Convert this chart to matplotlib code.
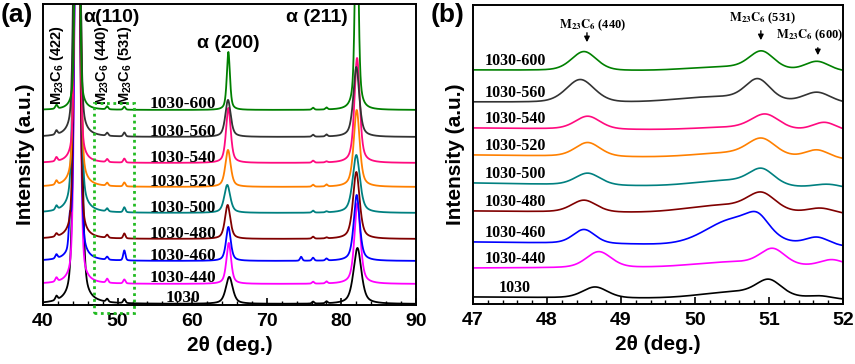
import numpy as np
import matplotlib
matplotlib.use("Agg")
import matplotlib.pyplot as plt
from matplotlib.patches import Rectangle

plt.rcParams['mathtext.fontset'] = 'custom'
plt.rcParams['mathtext.rm'] = 'Liberation Sans:bold'
plt.rcParams['mathtext.it'] = 'Liberation Sans:bold'
plt.rcParams['mathtext.bf'] = 'Liberation Sans:bold'

# ---------------- data ----------------
samples = ['1030', '1030-440', '1030-460', '1030-480', '1030-500',
           '1030-520', '1030-540', '1030-560', '1030-600']
colors = ['#000000', '#FF00FF', '#0000FF', '#800000', '#008080',
          '#FF8000', '#FF0A7F', '#333333', '#008000']

# panel (a): baselines and peaks (arbitrary intensity units)
offset_a = [1, 21, 44, 66, 92, 118, 142, 168, 195]
pos110 = [44.65, 44.6, 44.6, 44.55, 44.55, 44.6, 44.6, 44.55, 44.6]
h110 = [600, 600, 600, 600, 600, 600, 600, 600, 600]
w110 = [0.9, 0.7, 0.7, 0.7, 0.8, 0.7, 0.6, 0.7, 0.5]
pos200 = [64.97, 64.9, 64.85, 64.75, 64.7, 64.8, 64.85, 64.8, 64.85]
h200 = [27, 41, 34, 34, 28, 37, 55, 37, 58]
w200 = [1.1, 0.75, 0.75, 0.85, 0.95, 0.85, 0.75, 0.85, 0.5]
pos211 = [82.15, 82.15, 82.05, 82.0, 82.0, 82.05, 82.1, 82.0, 82.05]
h211 = [56, 81, 66, 67, 58, 77, 105, 70, 250]
w211 = [1.25, 0.95, 0.95, 1.05, 1.15, 0.95, 0.85, 0.95, 0.5]
h422 = [4, 4, 4, 3, 4, 4, 4, 4, 4]
h440 = [3, 4, 3, 3, 3, 3, 3, 3, 3]
h531 = [4, 4, 10, 5, 5, 4, 4, 4, 3]
h762 = [2, 2, 3, 2, 2, 2, 2, 2, 2]
h780 = [2, 2, 2, 1, 1, 2, 1, 2, 2]
h436 = [0, 0, 28, 0, 0, 0, 0, 0, 0]
h746 = [0, 0, 4, 0, 0, 0, 0, 0, 0]
minor_pos = [41.8, 48.6, 50.9, 76.2, 78.0, 43.6, 74.6]

# panel (b): baselines (left, right) and four peak components
base_L = [7, 36, 62, 93, 121, 149, 176, 202, 234]
base_R = [4, 37, 57, 89, 114, 144, 172, 200, 232]
p440_pos = [48.65, 48.7, 48.5, 48.5, 48.55, 48.55, 48.55, 48.45, 48.5]
p440_h = [11, 16, 14, 12, 12, 14, 13, 23, 19]
p440_w = [0.4, 0.4, 0.35, 0.4, 0.4, 0.4, 0.4, 0.45, 0.4]
p531_pos = [51.0, 51.05, 50.85, 50.9, 50.9, 50.9, 50.95, 50.85, 50.9]
p531_h = [15, 16, 14, 17, 15, 17, 15, 21, 18]
p531_w = [0.4, 0.4, 0.35, 0.45, 0.4, 0.45, 0.45, 0.4, 0.4]
broad_pos = [50.6, 50.5, 50.55, 50.4, 50.5, 50.5, 50.5, 50.3, 50.4]
broad_h = [7, 5, 26, 8, 7, 5, 3, 6, 4]
broad_w = [1.2, 1.2, 0.9, 1.2, 1.2, 1.2, 1.2, 1.3, 1.2]
p600_pos = [51.7, 51.85, 51.65, 51.7, 51.8, 51.65, 51.75, 51.65, 51.65]
p600_h = [3, 7, 9, 6, 5, 9, 9, 11, 10]
p600_w = [0.4, 0.4, 0.4, 0.45, 0.5, 0.4, 0.4, 0.45, 0.4]


def pv(x, c, h, w, eta=0.3):
    d = (x - c) / w
    return h * (eta / (1 + 4 * d ** 2) + (1 - eta) * np.exp(-4 * np.log(2) * d ** 2))


fig = plt.figure(figsize=(8.55, 3.64), dpi=100)
axa = fig.add_axes([43 / 855, 1 - 305 / 364, 373 / 855, 301 / 364])
axb = fig.add_axes([473 / 855, 1 - 304 / 364, 370 / 855, 299 / 364])

tickfont = dict(family='Liberation Sans', weight='bold', size=14)
labfont = dict(family='Liberation Sans', weight='bold', size=15)

# ---------------- panel (a) ----------------
xa = np.linspace(40, 90, 4000)
for i, name in enumerate(samples):
    y = np.full_like(xa, offset_a[i], dtype=float)
    y += pv(xa, pos110[i], h110[i], w110[i])
    y += pv(xa, pos200[i], h200[i], w200[i], 0.6)
    y += pv(xa, pos211[i], h211[i], w211[i], 0.6)
    mh = [h422[i], h440[i], h531[i], h762[i], h780[i], h436[i], h746[i]]
    for c, h in zip(minor_pos, mh):
        if h:
            y += pv(xa, c, h, 0.35)
    axa.plot(xa, y, color=colors[i], lw=1.3)
    axa.text(58.7, offset_a[i] + 1.5, name, ha='center', va='baseline',
             family='Liberation Serif', weight='bold', size=12.5)

axa.set_xlim(40, 90)
axa.set_ylim(0, 301)
axa.set_yticks([])
axa.set_xticks([40, 50, 60, 70, 80, 90])
axa.set_xticks(np.arange(40, 91, 2), minor=True)
axa.text(45.4, 288, 'α(110)', ha='left', va='center', **tickfont)
axa.text(64.9, 262, 'α (200)', ha='center', va='center', **tickfont)
axa.text(80.8, 288, 'α (211)', ha='right', va='center', **tickfont)
for xpos, lab in [(41.9, '$M_{23}C_6$ (422)'), (47.9, '$M_{23}C_6$ (440)'),
                  (51.0, '$M_{23}C_6$ (531)')]:
    axa.text(xpos, 240, lab, rotation=90, ha='center', va='center',
             family='Liberation Sans', weight='bold', size=10.5)
axa.add_patch(Rectangle((46.8, -8), 5.4, 210, fill=False, ec='#22BB22',
                        lw=2, ls=(0, (1, 1.3)), clip_on=False, zorder=5))
axa.set_xlabel('2θ (deg.)', labelpad=4, **labfont)
axa.set_ylabel('Intensity (a.u.)', labelpad=6, **labfont)
fig.text(17 / 855, 1 - 15 / 364, '(a)', ha='center', va='center',
         family='Liberation Sans', weight='bold', size=19)

# ---------------- panel (b) ----------------
xb = np.linspace(47, 52, 2000)
for i, name in enumerate(samples):
    y = base_L[i] + (base_R[i] - base_L[i]) * (xb - 47) / 5.0
    y = y + pv(xb, p440_pos[i], p440_h[i], p440_w[i])
    y = y + pv(xb, p531_pos[i], p531_h[i], p531_w[i])
    y = y + pv(xb, broad_pos[i], broad_h[i], broad_w[i], 0.0)
    y = y + pv(xb, p600_pos[i], p600_h[i], p600_w[i])
    axb.plot(xb, y, color=colors[i], lw=1.2)
    axb.text(47.57, base_L[i] + 5, name, ha='center', va='baseline',
             family='Liberation Serif', weight='bold', size=11.5)

axb.set_xlim(47, 52)
axb.set_ylim(0, 299)
axb.set_yticks([])
axb.set_xticks([47, 48, 49, 50, 51, 52])
axb.set_xticks(np.arange(47, 52.01, 0.2), minor=True)
# (arrow x, hkl, arrow top, arrow tip, text x, text y)
ann = [(48.54, '440', 274, 259, 48.62, 279), (50.89, '531', 276, 261, 50.92, 286),
       (51.66, '600', 259, 246, 51.55, 269)]
for xpos, hkl, ytop, ybot, xtxt, ytxt in ann:
    axb.annotate('', xy=(xpos, ybot), xytext=(xpos, ytop),
                 arrowprops=dict(arrowstyle='-|>', color='black', lw=1,
                                 mutation_scale=8))
    axb.text(xtxt, ytxt, r'$\mathbf{M_{23}C_6}$ (' + hkl + ')',
             ha='center', va='center', family='Liberation Serif',
             weight='bold', size=9, math_fontfamily='stix')
axb.set_xlabel('2θ (deg.)', labelpad=4, **labfont)
axb.set_ylabel('Intensity (a.u.)', labelpad=6, **labfont)
fig.text(448 / 855, 1 - 15 / 364, '(b)', ha='center', va='center',
         family='Liberation Sans', weight='bold', size=19)

for ax in (axa, axb):
    ax.tick_params(axis='x', which='major', direction='in', length=5,
                   width=1.2, top=False, pad=6)
    ax.tick_params(axis='x', which='minor', direction='in', length=3,
                   width=1, top=False)
    for lab in ax.get_xticklabels():
        lab.set_fontfamily('Liberation Sans')
        lab.set_fontweight('bold')
        lab.set_fontsize(14)
    for s in ax.spines.values():
        s.set_linewidth(1.4)

fig.savefig('out.png', dpi=100)
